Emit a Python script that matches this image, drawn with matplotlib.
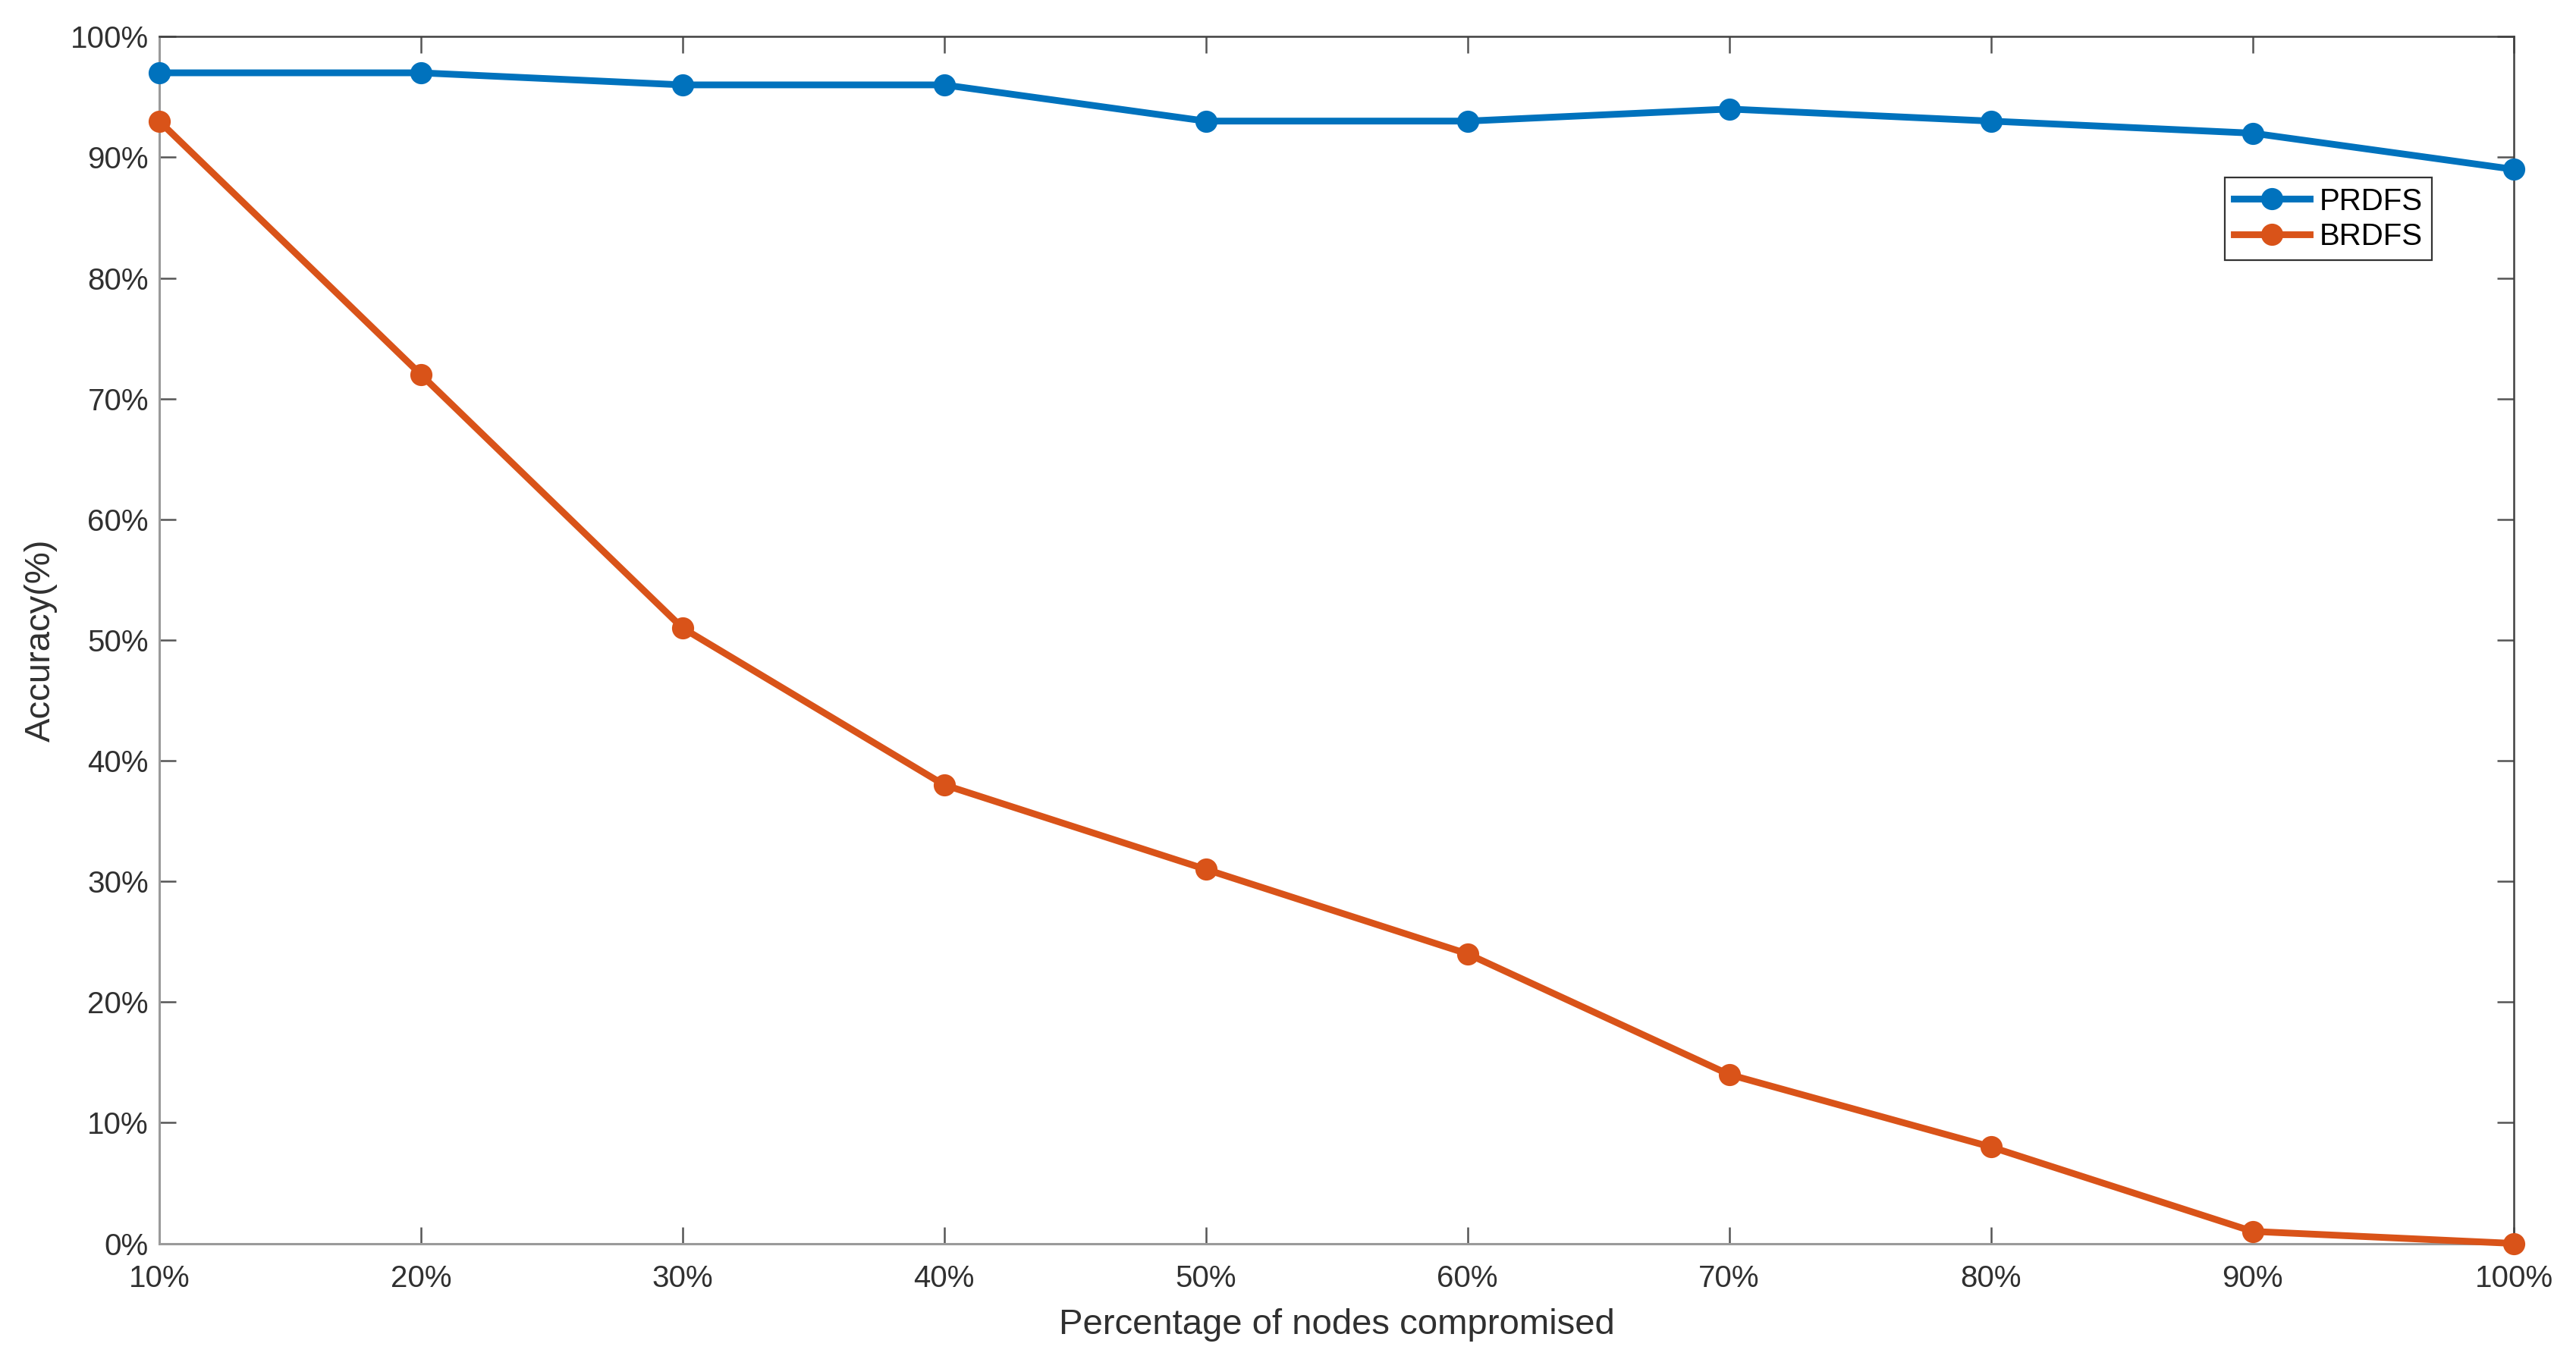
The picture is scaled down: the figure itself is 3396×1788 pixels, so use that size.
import matplotlib
matplotlib.use("Agg")
import matplotlib.pyplot as plt
from matplotlib.ticker import FuncFormatter

x_pct = [10, 20, 30, 40, 50, 60, 70, 80, 90, 100]
prdfs = [97, 97, 96, 96, 93, 93, 94, 93, 92, 89]
brdfs = [93, 72, 51, 38, 31, 24, 14, 8, 1, 0]
y_ticks = [0, 10, 20, 30, 40, 50, 60, 70, 80, 90, 100]

plt.rcParams['font.family'] = ['Liberation Sans', 'DejaVu Sans']

fig = plt.figure(figsize=(16.98, 8.94), dpi=200)
ax = fig.add_axes([0.0618, 0.083, 0.9142, 0.890])

ax.plot(x_pct, prdfs, color='#0072BD', lw=3.2, marker='o', ms=9.5, label='PRDFS', clip_on=False, zorder=3)
ax.plot(x_pct, brdfs, color='#D95319', lw=3.2, marker='o', ms=9.5, label='BRDFS', clip_on=False, zorder=3)

ax.set_xlim(10, 100)
ax.set_ylim(0, 100)
ax.set_xticks(x_pct)
ax.set_yticks(y_ticks)
ax.xaxis.set_major_formatter(FuncFormatter(lambda v, p: f"{int(v)}%"))
ax.yaxis.set_major_formatter(FuncFormatter(lambda v, p: f"{int(v)}%"))

for side in ['left', 'bottom']:
    ax.spines[side].set_color('#9a9a9a')
    ax.spines[side].set_linewidth(1.1)
for side in ['top', 'right']:
    ax.spines[side].set_color('#404040')
    ax.spines[side].set_linewidth(0.9)
ax.tick_params(direction='in', length=8, width=0.9, colors='#555555',
               labelcolor='#303030', labelsize=14.5, top=True, right=True)
ax.tick_params(axis='x', pad=10)
ax.tick_params(axis='y', pad=5)

ax.set_xlabel('Percentage of nodes compromised', fontsize=17, color='#303030', labelpad=7)
ax.set_ylabel('Accuracy(%)', fontsize=17, color='#303030', labelpad=6)

leg = ax.legend(loc='upper left', bbox_to_anchor=(0.877, 0.883), fontsize=14.5,
                frameon=True, fancybox=False, framealpha=1, edgecolor='#333333',
                handlelength=2.5, handletextpad=0.3, borderpad=0.3, labelspacing=0.2,
                borderaxespad=0)
leg.get_frame().set_linewidth(0.8)

fig.savefig('out.png', dpi=200)
